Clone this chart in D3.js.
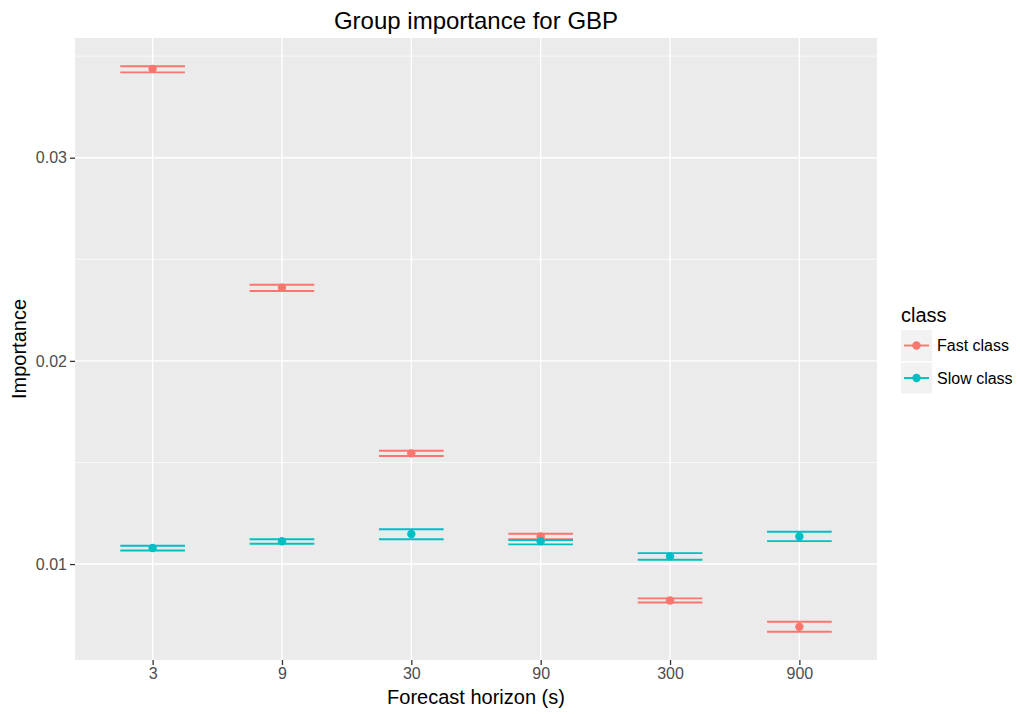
<!DOCTYPE html>
<html>
<head>
<meta charset="utf-8">
<script src="https://cdn.jsdelivr.net/npm/d3@7"></script>
<style>
  html, body { margin: 0; padding: 0; background: #fff; }
  svg { display: block; font-family: "Liberation Sans", Arial, sans-serif; }
</style>
</head>
<body>
<svg id="chart" width="1020" height="714"></svg>
<script>
// Forecast horizons (seconds), shown as discrete categories
const horizons = ["3", "9", "30", "90", "300", "900"];
const classes = ["Fast class", "Slow class"];
const classColors = ["#F8766D", "#00BFC4"];

// Group importance estimates with lower / upper bounds
const fastValue = [0.03437, 0.02360, 0.01545, 0.01136, 0.00821, 0.00691];
const fastLower = [0.03420, 0.02344, 0.01532, 0.01123, 0.00811, 0.00667];
const fastUpper = [0.03450, 0.02375, 0.01558, 0.01149, 0.00831, 0.00716];

const slowValue = [0.01079, 0.01112, 0.01148, 0.01112, 0.01038, 0.01136];
const slowLower = [0.01067, 0.01100, 0.01122, 0.01097, 0.01021, 0.01113];
const slowUpper = [0.01090, 0.01122, 0.01171, 0.01118, 0.01054, 0.01159];

const yTicks = [0.01, 0.02, 0.03];
const yMinor = [0.015, 0.025, 0.035];

const series = [
  { name: classes[0], color: classColors[0], value: fastValue, lower: fastLower, upper: fastUpper },
  { name: classes[1], color: classColors[1], value: slowValue, lower: slowLower, upper: slowUpper }
];

const svg = d3.select("#chart");
const panel = { left: 75, top: 38, right: 877, bottom: 660 };

const x = d3.scalePoint()
  .domain(horizons)
  .range([panel.left, panel.right])
  .padding(0.6);

const allLo = d3.min(series, s => d3.min(s.lower));
const allHi = d3.max(series, s => d3.max(s.upper));
const pad = (allHi - allLo) * 0.05;
const y = d3.scaleLinear()
  .domain([allLo - pad, allHi + pad])
  .range([panel.bottom, panel.top]);

// Panel background
svg.append("rect")
  .attr("x", panel.left).attr("y", panel.top)
  .attr("width", panel.right - panel.left)
  .attr("height", panel.bottom - panel.top)
  .attr("fill", "#EBEBEB");

// Grid lines
const grid = svg.append("g");
grid.selectAll(".minor").data(yMinor.filter(v => y(v) >= panel.top)).join("line")
  .attr("x1", panel.left).attr("x2", panel.right)
  .attr("y1", d => y(d)).attr("y2", d => y(d))
  .attr("stroke", "#fff").attr("stroke-width", 0.7);
grid.selectAll(".major").data(yTicks).join("line")
  .attr("x1", panel.left).attr("x2", panel.right)
  .attr("y1", d => y(d)).attr("y2", d => y(d))
  .attr("stroke", "#fff").attr("stroke-width", 1.4);
grid.selectAll(".vmajor").data(horizons).join("line")
  .attr("x1", d => x(d)).attr("x2", d => x(d))
  .attr("y1", panel.top).attr("y2", panel.bottom)
  .attr("stroke", "#fff").attr("stroke-width", 1.4);

// Error bars and points
const barHalf = x.step() * 0.25;
series.forEach(s => {
  const g = svg.append("g");
  horizons.forEach((h, i) => {
    [s.lower[i], s.upper[i]].forEach(v => {
      g.append("line")
        .attr("x1", x(h) - barHalf).attr("x2", x(h) + barHalf)
        .attr("y1", y(v)).attr("y2", y(v))
        .attr("stroke", s.color).attr("stroke-width", 1.9);
    });
  });
  g.selectAll("circle").data(s.value).join("circle")
    .attr("cx", (d, i) => x(horizons[i]))
    .attr("cy", d => y(d))
    .attr("r", 4.2)
    .attr("fill", s.color);
});

// Axes
const xAxis = svg.append("g")
  .attr("transform", `translate(0,${panel.bottom})`)
  .call(d3.axisBottom(x).tickSize(5).tickPadding(3));
const yAxis = svg.append("g")
  .attr("transform", `translate(${panel.left},0)`)
  .call(d3.axisLeft(y).tickValues(yTicks).tickFormat(d3.format(".2f")).tickSize(5).tickPadding(3));
[xAxis, yAxis].forEach(a => {
  a.select(".domain").remove();
  a.selectAll(".tick line").attr("stroke", "#333").attr("stroke-width", 1.3);
  a.selectAll(".tick text").attr("fill", "#4D4D4D").style("font-size", "16px");
});

// Titles
svg.append("text")
  .attr("x", (panel.left + panel.right) / 2).attr("y", 28.5)
  .attr("text-anchor", "middle").style("font-size", "24px").attr("fill", "#000")
  .text("Group importance for GBP");
svg.append("text")
  .attr("x", (panel.left + panel.right) / 2).attr("y", 704)
  .attr("text-anchor", "middle").style("font-size", "20px").attr("fill", "#000")
  .text("Forecast horizon (s)");
svg.append("text")
  .attr("transform", `translate(26,${(panel.top + panel.bottom) / 2}) rotate(-90)`)
  .attr("text-anchor", "middle").style("font-size", "20px").attr("fill", "#000")
  .text("Importance");

// Legend
const legend = svg.append("g").attr("transform", "translate(901,0)");
legend.append("text")
  .attr("x", 0).attr("y", 321.5)
  .style("font-size", "20px").attr("fill", "#000")
  .text("class");
series.forEach((s, i) => {
  const top = 330 + i * 32.5;
  legend.append("rect")
    .attr("x", 0).attr("y", top).attr("width", 31).attr("height", 31)
    .attr("fill", "#F2F2F2");
  legend.append("line")
    .attr("x1", 3).attr("x2", 28).attr("y1", top + 15.5).attr("y2", top + 15.5)
    .attr("stroke", s.color).attr("stroke-width", 1.9);
  legend.append("circle")
    .attr("cx", 15.5).attr("cy", top + 15.5).attr("r", 4.2).attr("fill", s.color);
  legend.append("text")
    .attr("x", 36).attr("y", top + 15.5).attr("dy", "0.35em")
    .style("font-size", "16px").attr("fill", "#000")
    .text(s.name);
});
</script>
</body>
</html>
